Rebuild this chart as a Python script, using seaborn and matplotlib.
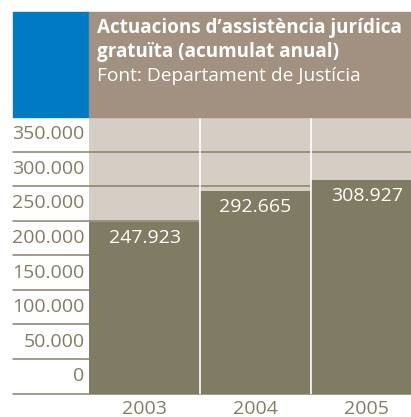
import matplotlib
matplotlib.use("Agg")
import matplotlib.pyplot as plt
import matplotlib.transforms as mtransforms
from matplotlib.patches import Rectangle
import seaborn as sns
import pandas as pd

# ---- data ----
years = ["2003", "2004", "2005"]
values = [247923, 292665, 308927]
tick_values = [0, 50000, 100000, 150000, 200000, 250000, 300000, 350000]
tick_labels = ["0", "50.000", "100.000", "150.000", "200.000", "250.000", "300.000", "350.000"]
title_lines = ["Actuacions d\u2019assist\u00e8ncia jur\u00eddica", "gratu\u00efta (acumulat anual)"]
source_line = "Font: Departament de Just\u00edcia"

# ---- style ----
sns.set_theme(style="white")
plt.rcParams["font.family"] = ["Open Sans", "DejaVu Sans"]

BAR = "#807B63"
BG = "#D6CDC4"
TITLE_BG = "#A29180"
BLUE = "#007AC3"
GRID = "#878269"
TXT = "#827D64"

W, H = 411, 417
fig = plt.figure(figsize=(W / 100, H / 100), dpi=100)
fig.patch.set_facecolor("white")

def fx(px):
    return px / W

def fy(py):
    return 1 - py / H

# header boxes
fig.patches.append(Rectangle((fx(13), fy(117)), fx(89) - fx(13), fy(12) - fy(117),
                             transform=fig.transFigure, color=BLUE, zorder=0))
fig.patches.append(Rectangle((fx(89), fy(117)), 1 - fx(89), fy(12) - fy(117),
                             transform=fig.transFigure, color=TITLE_BG, zorder=0))
fig.text(fx(96.5), fy(33), title_lines[0], color="white", fontsize=13.6, fontweight="bold",
         va="baseline", ha="left")
fig.text(fx(96.5), fy(57), title_lines[1], color="white", fontsize=13.6, fontweight="bold",
         va="baseline", ha="left")
fig.text(fx(96.5), fy(81), source_line, color="white", fontsize=13.8,
         va="baseline", ha="left")

# plot axes
ax_left, ax_top, ax_bottom = 89, 117, 393.5
ax = fig.add_axes([fx(ax_left), fy(ax_bottom), 1 - fx(ax_left), (ax_bottom - ax_top) / H])
ax.set_facecolor(BG)

df = pd.DataFrame({"year": years, "value": values})
sns.barplot(data=df, x="year", y="value", color=BAR, width=1.0, saturation=1,
            edgecolor="none", linewidth=0, ax=ax, zorder=3)

ax.set_xlim(-0.5, 2.4)
ax.set_ylim(0, 400000)

# gridlines extending into the label column
axw_px = W - ax_left
ext = -(ax_left - 13) / axw_px
for v in tick_values:
    ax.axhline(v, xmin=ext, xmax=1, color=GRID, lw=1.1, zorder=1, clip_on=False)

# white separators between columns
for xpos in [0.5, 1.5]:
    ax.axvline(xpos, color="white", lw=1.2, zorder=4)

# tick labels sitting above each gridline
step = tick_values[1] - tick_values[0]
lab_trans = mtransforms.blended_transform_factory(fig.transFigure, ax.transData)
for v, lab in zip(tick_values, tick_labels):
    ax.text(fx(84.5), v + step / 2, lab, transform=lab_trans, ha="right", va="center",
            fontsize=14, color=TXT, clip_on=False)

# value labels inside bars
for i, v in enumerate(values):
    ax.annotate(f"{v:,}".replace(",", "."), xy=(i, v), xytext=(0, -11.5),
                textcoords="offset points", ha="center", va="center",
                fontsize=14, color="white", zorder=5)

# year labels
ax.set_xticks(range(len(years)))
ax.set_xticklabels(years, fontsize=14, color=TXT)
ax.tick_params(axis="x", length=0, pad=5)
ax.set_yticks([])
ax.set_xlabel("")
ax.set_ylabel("")
for s in ax.spines.values():
    s.set_visible(False)

fig.savefig("out.png", dpi=100)
